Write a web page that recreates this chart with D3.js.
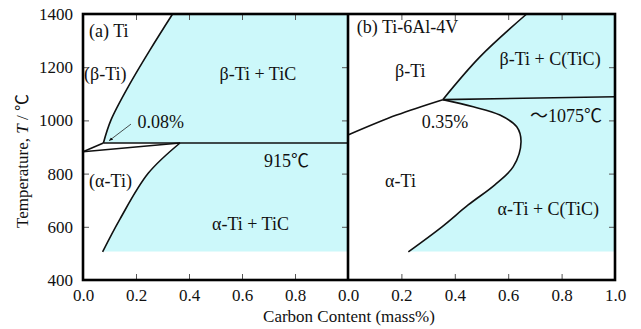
<!DOCTYPE html>
<html>
<head>
<meta charset="utf-8">
<script src="https://cdn.jsdelivr.net/npm/d3@7"></script>
<style>
  body { margin: 0; background: #fff; }
  .tick line { stroke: #555; stroke-width: 1; }
</style>
</head>
<body>
<div id="chart"></div>
<script>
// ─── Daten ───────────────────────────────────────────────────────────────────

const xTicksA = [0, 0.2, 0.4, 0.6, 0.8];
const xTicksB = [0, 0.2, 0.4, 0.6, 0.8, 1.0];
const yTicks  = [400, 600, 800, 1000, 1200, 1400];
const fillBottom = 507;

// (a) Ti  – [C mass%, T °C]
const tiUpper     = [[0, 882], [0.077, 915]];
const tiLower     = [[0, 882], [0.366, 915]];
const tiEutectoid = [[0.077, 915], [1.0, 915]];
const tiBetaSolvus = [[0.077, 915], [0.105, 1000], [0.171, 1127], [0.253, 1265], [0.338, 1400]];
const tiAlphaSolvus = [[0.366, 915], [0.246, 801], [0.14, 630], [0.074, 506]];
const tiArrow = [[0.181, 986], [0.099, 924]];

// (b) Ti-6Al-4V
const tiAlTransus  = [[0, 945], [0.182, 1020], [0.355, 1078]];
const tiAlFlat     = [[0.355, 1078], [1.0, 1089]];
const tiAlBetaSolvus = [[0.355, 1078], [0.494, 1239], [0.669, 1400]];
const tiAlAlphaSolvus = [[0.355, 1078], [0.469, 1051], [0.569, 1020], [0.632, 976], [0.648, 920],
                         [0.619, 826], [0.55, 758], [0.45, 682], [0.352, 600], [0.226, 506]];

// Beschriftungen: [text, C, T, anchor]
const labelsA = [
  ['(a) Ti',      0.023, 1315, 'start'],
  ['(β-Ti)',      0.004, 1152, 'start'],
  ['β-Ti + TiC',  0.66,  1152, 'middle'],
  ['0.08%',       0.206, 972,  'start'],
  ['915℃',        0.683, 826,  'start'],
  ['(α-Ti)',      0.023, 751,  'start'],
  ['α-Ti + TiC',  0.632, 588,  'middle'],
];
const labelsB = [
  ['(b) Ti-6Al-4V',  0.033, 1328, 'start'],
  ['β-Ti',           0.176, 1164, 'start'],
  ['β-Ti + C(TiC)',  0.757, 1208, 'middle'],
  ['0.35%',          0.276, 970,  'start'],
  ['～1075℃',        0.682, 995,  'start'],
  ['α-Ti',           0.139, 751,  'start'],
  ['α-Ti + C(TiC)',  0.75,  644,  'middle'],
];

// ─── Layout ──────────────────────────────────────────────────────────────────

const W = 641, H = 329;
const FONT = '"Liberation Serif", "Times New Roman", "Noto Sans CJK JP", serif';
const svg = d3.select('#chart').append('svg').attr('width', W).attr('height', H)
  .style('font-family', FONT);

const y  = d3.scaleLinear().domain([400, 1400]).range([280, 14]);
const xA = d3.scaleLinear().domain([0, 1]).range([83, 348]);
const xB = d3.scaleLinear().domain([0, 1]).range([348, 615]);

const FILL = '#ccf8fa';

function lineFor(x) {
  return d3.line().x(d => x(d[0])).y(d => y(d[1])).curve(d3.curveCatmullRom.alpha(0.5));
}

// ─── Füllflächen ─────────────────────────────────────────────────────────────

const lA = lineFor(xA), lB = lineFor(xB);

// (a) oben: rechts der β-Löslichkeitslinie
svg.append('path')
  .attr('d', lA(tiBetaSolvus) + `L${xA(1)},${y(1400)}L${xA(1)},${y(915)}Z`)
  .attr('fill', FILL);
// (a) unten: rechts der α-Löslichkeitslinie
svg.append('path')
  .attr('d', lA(tiAlphaSolvus) + `L${xA(0.074)},${y(fillBottom)}L${xA(1)},${y(fillBottom)}L${xA(1)},${y(915)}Z`)
  .attr('fill', FILL);
// (b)
svg.append('path')
  .attr('d', lB(tiAlBetaSolvus.slice().reverse()) + lB(tiAlAlphaSolvus).replace(/^M/, 'L')
      + `L${xB(0.226)},${y(fillBottom)}L${xB(1)},${y(fillBottom)}L${xB(1)},${y(1400)}Z`)
  .attr('fill', FILL);

// ─── Phasengrenzen ───────────────────────────────────────────────────────────

const curves = svg.append('g').attr('fill', 'none').attr('stroke', '#111').attr('stroke-width', 1.6);
[tiUpper, tiLower, tiEutectoid, tiBetaSolvus, tiAlphaSolvus].forEach(c =>
  curves.append('path').attr('d', lA(c)));
[tiAlTransus, tiAlFlat, tiAlBetaSolvus, tiAlAlphaSolvus].forEach(c =>
  curves.append('path').attr('d', lB(c)));

// Pfeil auf 0.08%
svg.append('defs').append('marker')
  .attr('id', 'arr').attr('viewBox', '0 0 10 10').attr('refX', 9).attr('refY', 5)
  .attr('markerWidth', 5).attr('markerHeight', 5).attr('orient', 'auto')
  .append('path').attr('d', 'M0,1L10,5L0,9Z').attr('fill', '#111');
svg.append('path')
  .attr('d', d3.line().x(d => xA(d[0])).y(d => y(d[1]))(tiArrow))
  .attr('stroke', '#222').attr('stroke-width', 0.8).attr('fill', 'none')
  .attr('marker-end', 'url(#arr)');

// ─── Achsen ──────────────────────────────────────────────────────────────────

const fmt = d3.format('.1f');
function styleAxis(g) {
  g.attr('font-family', FONT).attr('font-size', 17);
  g.select('.domain').remove();
  g.selectAll('text').attr('fill', '#111');
}

svg.append('g').attr('transform', `translate(0,${y(400)})`)
  .call(d3.axisBottom(xA).tickValues(xTicksA).tickFormat(fmt).tickSizeInner(-6).tickSizeOuter(0).tickPadding(9))
  .call(styleAxis);
svg.append('g').attr('transform', `translate(0,${y(400)})`)
  .call(d3.axisBottom(xB).tickValues(xTicksB).tickFormat(fmt).tickSizeInner(-6).tickSizeOuter(0).tickPadding(9))
  .call(styleAxis);
svg.append('g').attr('transform', `translate(0,${y(1400)})`)
  .call(d3.axisTop(xA).tickValues(xTicksA.slice(1)).tickFormat('').tickSizeInner(-6).tickSizeOuter(0))
  .call(styleAxis);
svg.append('g').attr('transform', `translate(0,${y(1400)})`)
  .call(d3.axisTop(xB).tickValues(xTicksB.slice(1, 5)).tickFormat('').tickSizeInner(-6).tickSizeOuter(0))
  .call(styleAxis);
svg.append('g').attr('transform', `translate(${xA(0)},0)`)
  .call(d3.axisLeft(y).tickValues(yTicks).tickFormat(d3.format('d')).tickSizeInner(-6).tickSizeOuter(0).tickPadding(10))
  .call(styleAxis);
svg.append('g').attr('transform', `translate(${xA(1)},0)`)
  .call(d3.axisRight(y).tickValues(yTicks.slice(1, 5)).tickFormat('').tickSizeInner(-6).tickSizeOuter(0))
  .call(styleAxis);
svg.append('g').attr('transform', `translate(${xB(1)},0)`)
  .call(d3.axisRight(y).tickValues(yTicks.slice(1, 5)).tickFormat('').tickSizeInner(-6).tickSizeOuter(0))
  .call(styleAxis);

// Rahmen
svg.append('rect')
  .attr('x', xA(0)).attr('y', y(1400)).attr('width', xB(1) - xA(0)).attr('height', y(400) - y(1400))
  .attr('fill', 'none').attr('stroke', '#000').attr('stroke-width', 2.6);
svg.append('line')
  .attr('x1', xA(1)).attr('x2', xA(1)).attr('y1', y(1400)).attr('y2', y(400))
  .attr('stroke', '#000').attr('stroke-width', 2.6);

// ─── Texte ───────────────────────────────────────────────────────────────────

function addLabels(list, x) {
  svg.append('g').selectAll('text').data(list).enter().append('text')
    .attr('x', d => x(d[1])).attr('y', d => y(d[2]))
    .attr('text-anchor', d => d[3])
    .attr('font-size', 18)
    .attr('fill', '#111')
    .text(d => d[0]);
}
addLabels(labelsA, xA);
addLabels(labelsB, xB);

svg.append('text')
  .attr('x', (xA(0) + xB(1)) / 2).attr('y', 322)
  .attr('text-anchor', 'middle').attr('font-size', 17).attr('fill', '#111')
  .text('Carbon Content (mass%)');

const yt = svg.append('text')
  .attr('transform', 'translate(28,161) rotate(-90)')
  .attr('text-anchor', 'middle').attr('font-size', 17).attr('fill', '#111');
yt.append('tspan').text('Temperature, ');
yt.append('tspan').attr('font-style', 'italic').text('T');
yt.append('tspan').text(' / ℃');
</script>
</body>
</html>
